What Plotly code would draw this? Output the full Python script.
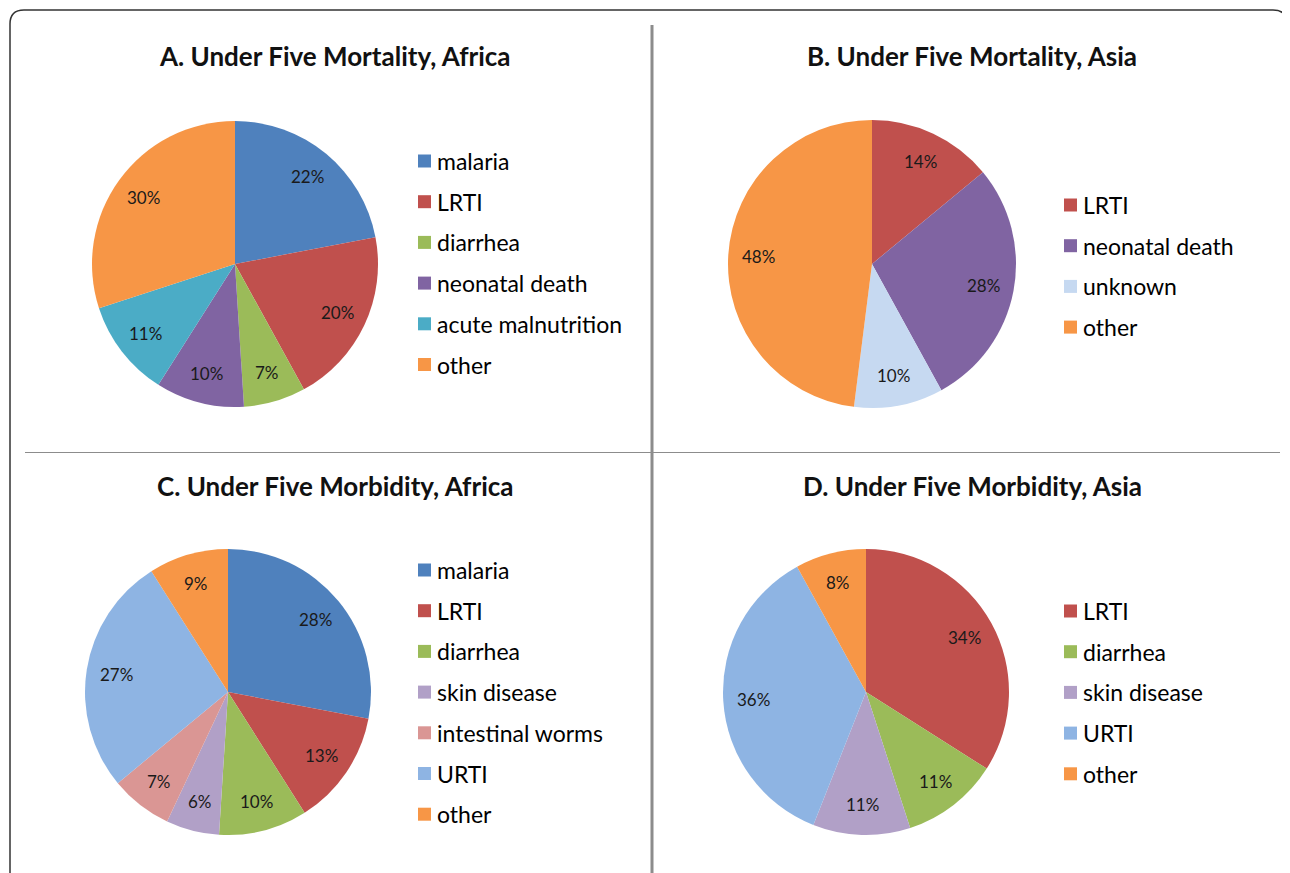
import math
import plotly.graph_objects as go

W, H = 1290, 873
OFF = 8  # page body margin offset

# ---- data ----
titles = ["A. Under Five Mortality, Africa", "B. Under Five Mortality, Asia",
          "C. Under Five Morbidity, Africa", "D. Under Five Morbidity, Asia"]

a_labels = ["malaria", "LRTI", "diarrhea", "neonatal death", "acute malnutrition", "other"]
a_values = [22, 20, 7, 10, 11, 30]

b_labels = ["LRTI", "neonatal death", "unknown", "other"]
b_values = [14, 28, 10, 48]

c_labels = ["malaria", "LRTI", "diarrhea", "skin disease", "intestinal worms", "URTI", "other"]
c_values = [28, 13, 10, 6, 7, 27, 9]

d_labels = ["LRTI", "diarrhea", "skin disease", "URTI", "other"]
d_values = [34, 11, 11, 36, 8]

colors = {
    "malaria": "#4F81BD", "LRTI": "#C0504D", "diarrhea": "#9BBB59",
    "neonatal death": "#8064A2", "acute malnutrition": "#4BACC6", "other": "#F79646",
    "unknown": "#C6D9F1", "skin disease": "#B1A0C7", "intestinal worms": "#DA9694",
    "URTI": "#8EB4E3",
}

FONT = "Lato"

# panel layout in pixels: pie centre, radius, legend x, legend first-row y, title centre
panels = [
    dict(labels=a_labels, values=a_values, cx=235, cy=264, r=143, lx=418, ly=161, tx=335, ty=56),
    dict(labels=b_labels, values=b_values, cx=872, cy=264, r=144, lx=1064, ly=205, tx=972, ty=56),
    dict(labels=c_labels, values=c_values, cx=228, cy=692, r=143, lx=418, ly=570, tx=335, ty=486),
    dict(labels=d_labels, values=d_values, cx=866, cy=692, r=143, lx=1064, ly=611, tx=972, ty=486),
]
ROW = 40.7

fig = go.Figure()
shapes = []
annotations = []


def px(x):
    return (x - OFF) / W


def py(y):
    return 1 - (y - OFF) / H


for i, p in enumerate(panels):
    fig.add_trace(go.Pie(
        labels=p["labels"], values=p["values"], sort=False, direction="clockwise",
        rotation=0, marker=dict(colors=[colors[l] for l in p["labels"]], line=dict(width=0)),
        textinfo="none",
        domain=dict(x=[px(p["cx"] - p["r"]), px(p["cx"] + p["r"])],
                    y=[py(p["cy"] + p["r"]), py(p["cy"] - p["r"])]),
        showlegend=False, hoverinfo="label+percent",
    ))
    # percent labels placed at ~0.79 of the radius, at each slice's mid-angle
    total = sum(p["values"])
    cum = 0
    for v in p["values"]:
        mid = (cum + v / 2) / total * 2 * math.pi
        cum += v
        lx_ = p["cx"] + 0.79 * p["r"] * math.sin(mid)
        ly_ = p["cy"] - 0.79 * p["r"] * math.cos(mid)
        annotations.append(dict(text=f"{round(100 * v / total)}%", x=px(lx_), y=py(ly_),
                                xref="paper", yref="paper", xanchor="center", yanchor="middle",
                                showarrow=False, font=dict(family=FONT, size=17, color="#1a1a1a")))
    annotations.append(dict(text="<b>" + titles[i] + "</b>", x=px(p["tx"]), y=py(p["ty"]),
                            xref="paper", yref="paper", xanchor="center", yanchor="middle",
                            showarrow=False, font=dict(family=FONT, size=26, color="#111")))
    for j, lab in enumerate(p["labels"]):
        yy = p["ly"] + j * ROW
        shapes.append(dict(type="rect", xref="paper", yref="paper",
                           x0=px(p["lx"]), x1=px(p["lx"] + 13),
                           y0=py(yy + 6.5), y1=py(yy - 6.5),
                           fillcolor=colors[lab], line=dict(width=0)))
        annotations.append(dict(text=lab, x=px(p["lx"] + 17), y=py(yy), xref="paper", yref="paper",
                                xanchor="left", yanchor="middle", showarrow=False,
                                font=dict(family=FONT, size=23, color="#000")))

# frame and dividers
r = 14
x0, y0, x1, y1 = 10, 10, 1287, 890
path = (f"M {px(x0)},{py(y1)} L {px(x0)},{py(y0 + r)} "
        f"Q {px(x0)},{py(y0)} {px(x0 + r)},{py(y0)} "
        f"L {px(x1 - r)},{py(y0)} Q {px(x1)},{py(y0)} {px(x1)},{py(y0 + r)} L {px(x1)},{py(y1)}")
shapes.append(dict(type="path", xref="paper", yref="paper", path=path,
                   line=dict(color="#333333", width=1.5)))
shapes.append(dict(type="line", xref="paper", yref="paper", x0=px(652), x1=px(652),
                   y0=py(25), y1=py(890), line=dict(color="#8c8c8c", width=3)))
shapes.append(dict(type="line", xref="paper", yref="paper", x0=px(25), x1=px(1280),
                   y0=py(452.5), y1=py(452.5), line=dict(color="#8c8c8c", width=1.2)))

fig.update_layout(width=W, height=H, margin=dict(l=0, r=0, t=0, b=0),
                  paper_bgcolor="white", plot_bgcolor="white",
                  shapes=shapes, annotations=annotations, showlegend=False)

fig.write_html("out.html")
